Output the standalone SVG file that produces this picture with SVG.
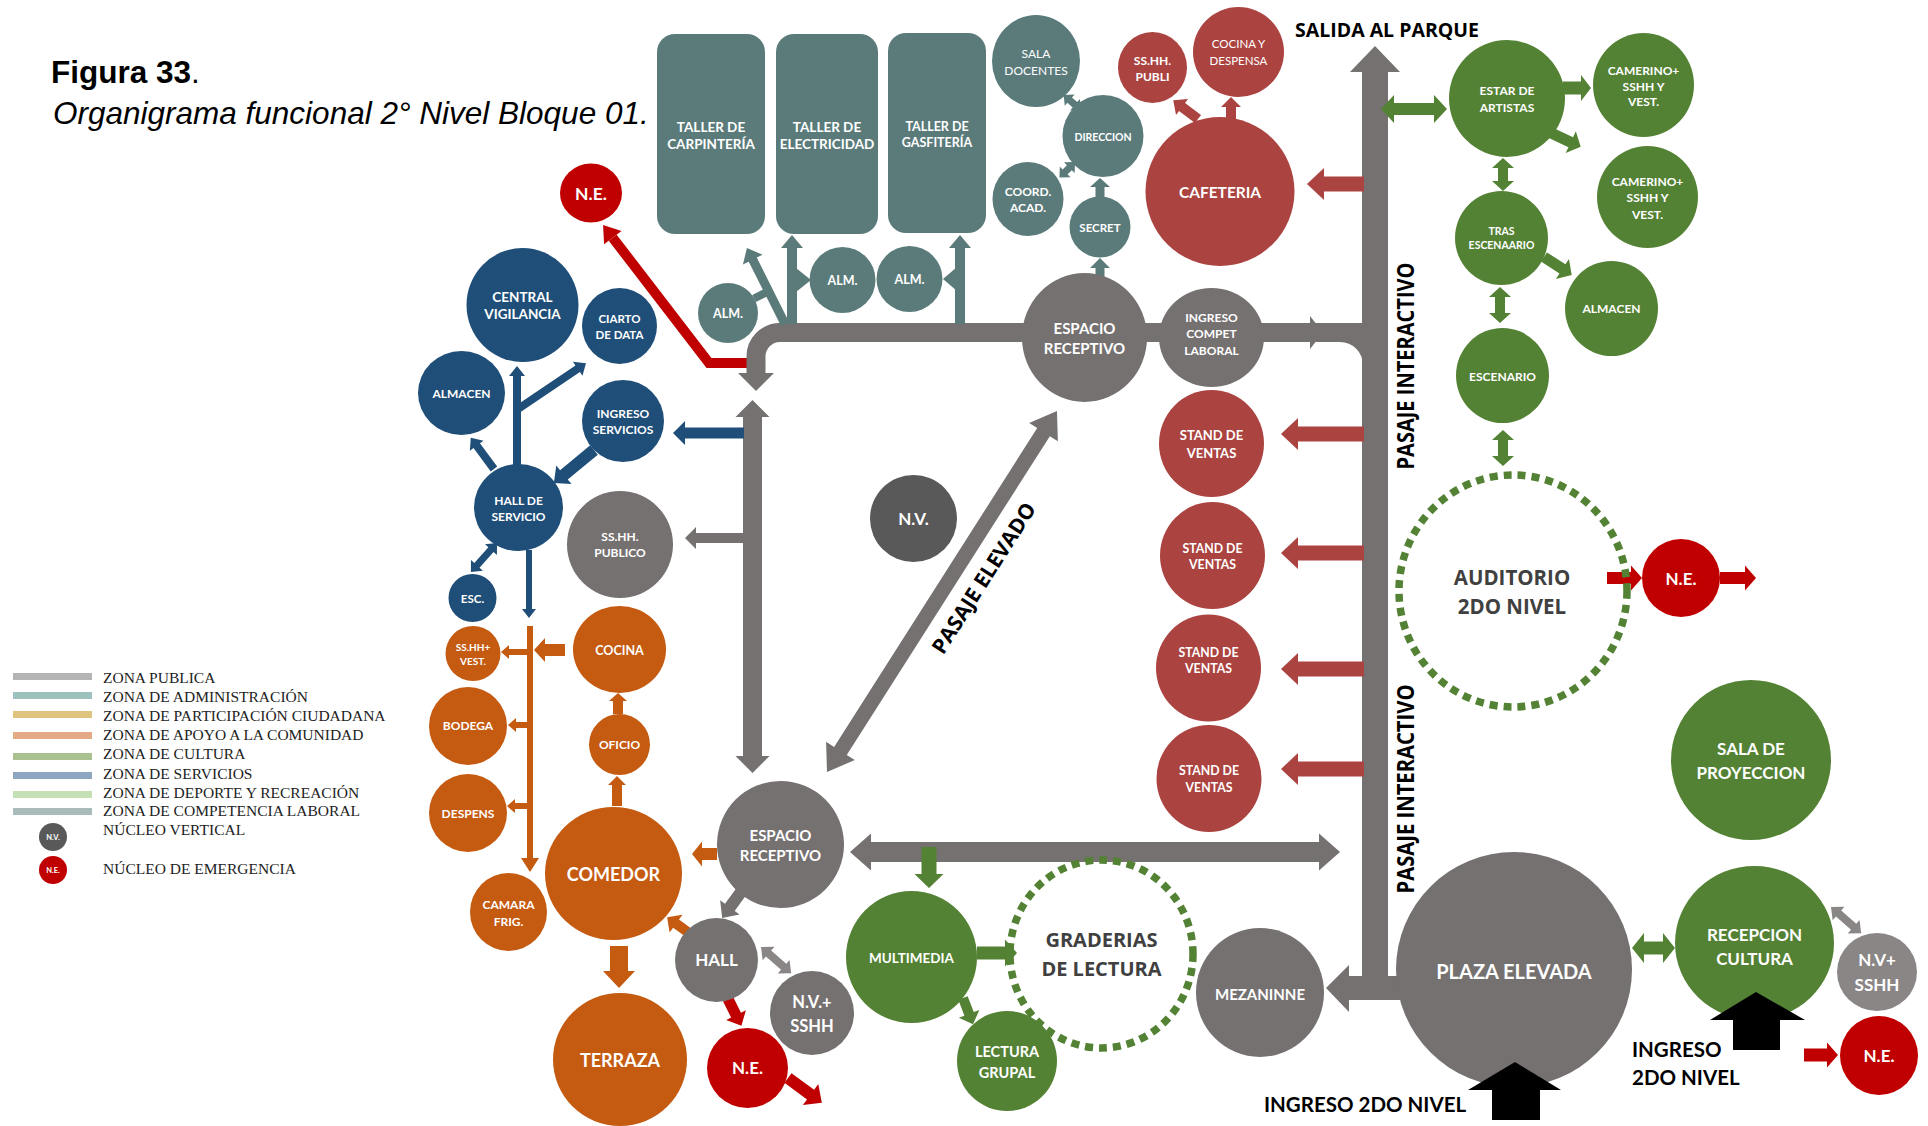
<svg xmlns="http://www.w3.org/2000/svg" width="1928" height="1126" viewBox="0 0 1928 1126">
<style>
.bg{fill:#ffffff}
.gr{fill:#767171}
.grl{fill:#8a8686}
.dg{fill:#595959}
.adm{fill:#5b7b7b}
.caf{fill:#ab4340}
.ne{fill:#c00000}
.cul{fill:#548235}
.ora{fill:#c55a11}
.blu{fill:#1f4e79}
.blk{fill:#000000}
.dash{fill:none;stroke:#548235;stroke-width:7.5;stroke-dasharray:8 6}
.t{font-family:Lato,"Open Sans","DejaVu Sans",sans-serif;font-weight:700;fill:#ffffff;text-anchor:middle}
.tn{font-weight:400}
.dk{font-family:"Open Sans",Lato,sans-serif;font-weight:700;fill:#404040;text-anchor:middle}
.lbl{font-family:Lato,"Open Sans",sans-serif;font-weight:700;fill:#000000}
.lbo{font-family:"Open Sans",Lato,sans-serif;font-weight:700;fill:#000000;text-anchor:middle}
.leg{font-family:"Liberation Serif","Times New Roman",serif;font-size:15.5px;fill:#222222}
</style>
<rect class="bg" x="0" y="0" width="1928" height="1126"/>

<g id="title">
<text x="51" y="83" font-family="Liberation Sans, Arial, sans-serif" font-size="31.5" fill="#000"><tspan font-weight="700">Figura 33</tspan>.</text>
<text x="53" y="124" font-family="Liberation Sans, Arial, sans-serif" font-size="31.5" font-style="italic" fill="#000">Organigrama funcional 2° Nivel Bloque 01.</text>
</g>

<g id="legend">
<rect x="13" y="673" width="79" height="7" fill="#b4b4b4"/>
<rect x="13" y="692" width="79" height="7" fill="#9bc2bc"/>
<rect x="13" y="711" width="79" height="7" fill="#dec47e"/>
<rect x="13" y="732" width="79" height="7" fill="#e4aa86"/>
<rect x="13" y="753" width="79" height="7" fill="#a9c091"/>
<rect x="13" y="772" width="79" height="7" fill="#8ea6c2"/>
<rect x="13" y="791" width="79" height="7" fill="#c5e0b4"/>
<rect x="13" y="808" width="79" height="7" fill="#aabbbb"/>
<text class="leg" x="103" y="682.5">ZONA PUBLICA</text>
<text class="leg" x="103" y="701.5">ZONA DE ADMINISTRACIÓN</text>
<text class="leg" x="103" y="720.5">ZONA DE PARTICIPACIÓN CIUDADANA</text>
<text class="leg" x="103" y="740">ZONA DE APOYO A LA COMUNIDAD</text>
<text class="leg" x="103" y="759">ZONA DE CULTURA</text>
<text class="leg" x="103" y="778.5">ZONA DE SERVICIOS</text>
<text class="leg" x="103" y="797.5">ZONA DE DEPORTE Y RECREACIÓN</text>
<text class="leg" x="103" y="816">ZONA DE COMPETENCIA LABORAL</text>
<circle class="dg" cx="53" cy="837" r="14"/>
<text class="t" x="53" y="840" font-size="7.5">N.V.</text>
<text class="leg" x="103" y="835">NÚCLEO VERTICAL</text>
<circle class="ne" cx="53" cy="870" r="14"/>
<text class="t" x="53" y="873" font-size="7.5">N.E.</text>
<text class="leg" x="103" y="874">NÚCLEO DE EMERGENCIA</text>
</g>

<g id="connectors">
<!-- red emergency line to top N.E. -->
<path d="M760,363 H709 L612.7,237.7" fill="none" stroke="#c00000" stroke-width="10" stroke-linejoin="miter"/>
<polygon class="ne" transform="translate(709,363) rotate(-127.5)" points="158,-11 174,0 158,11"/>

<!-- pasaje interactivo (vertical) -->
<rect class="gr" x="1362" y="70" width="26" height="930"/>
<polygon class="gr" points="1350,72 1375,46 1400,72"/>
<rect class="gr" x="1347" y="976" width="53" height="24"/>
<polygon class="gr" points="1349,965 1326,988 1349,1012"/>

<!-- top corridor -->
<path d="M1366,332.5 H780 A24,24 0 0 0 756,356.5 V374" fill="none" stroke="#767171" stroke-width="19"/>
<polygon class="gr" points="738,373 774,373 756,391"/>
<polygon class="gr" points="1310,316 1310,349 1323,332.5"/>
<path class="gr" d="M1340,342 H1363 V365 A23,23 0 0 0 1340,342 Z"/>

<!-- gray arrows -->
<polygon class="gr" transform="translate(752.5,400) rotate(90)" points="0,0 17,-17 17,-9.5 356,-9.5 356,-17 373,0 356,17 356,9.5 17,9.5 17,17"/>
<polygon class="gr" transform="translate(744,538) rotate(180)" points="0,-5 48,-5 48,-11 59,0 48,11 48,5 0,5"/>
<polygon class="blu" transform="translate(744,433) rotate(180)" points="0,-5.5 59,-5.5 59,-12 71,0 59,12 59,5.5 0,5.5"/>
<polygon class="gr" transform="translate(827,772) rotate(-57.5)" points="0,0 25,-17 25,-7.5 403,-7.5 403,-17 428,0 403,17 403,7.5 25,7.5 25,17"/>
<polygon class="gr" transform="translate(850,852)" points="0,0 21,-18.5 21,-10 469,-10 469,-18.5 490,0 469,18.5 469,10 21,10 21,18.5"/>
<polygon class="gr" transform="translate(741,892) rotate(126)" points="0,-6 19,-6 19,-12 32,0 19,12 19,6 0,6"/>
<polygon class="grl" transform="translate(761,947) rotate(41)" points="0,0 10,-9 10,-4 30,-4 30,-9 40,0 30,9 30,4 10,4 10,9"/>
<polygon class="grl" transform="translate(1831,907) rotate(41)" points="0,0 10,-9 10,-4 30,-4 30,-9 40,0 30,9 30,4 10,4 10,9"/>

<!-- red stand / cafeteria arrows -->
<polygon class="caf" transform="translate(1364,184) rotate(180)" points="0,-7.5 40,-7.5 40,-16 57,0 40,16 40,7.5 0,7.5"/>
<polygon class="caf" transform="translate(1364,434) rotate(180)" points="0,-7.5 66,-7.5 66,-16 83,0 66,16 66,7.5 0,7.5"/>
<polygon class="caf" transform="translate(1364,553) rotate(180)" points="0,-7.5 66,-7.5 66,-16 83,0 66,16 66,7.5 0,7.5"/>
<polygon class="caf" transform="translate(1364,669) rotate(180)" points="0,-7.5 66,-7.5 66,-16 83,0 66,16 66,7.5 0,7.5"/>
<polygon class="caf" transform="translate(1364,769) rotate(180)" points="0,-7.5 66,-7.5 66,-16 83,0 66,16 66,7.5 0,7.5"/>
<polygon class="caf" transform="translate(1198,119) rotate(-143)" points="0,-5 20,-5 20,-10 31,0 20,10 20,5 0,5"/>
<polygon class="caf" transform="translate(1231,119) rotate(-90)" points="0,-5 12,-5 12,-10 22,0 12,10 12,5 0,5"/>

<!-- admin (teal) arrows -->
<polygon class="adm" transform="translate(1100,284) rotate(-90)" points="0,-4.5 16,-4.5 16,-10 26,0 16,10 16,4.5 0,4.5"/>
<polygon class="adm" transform="translate(1100,197) rotate(-90)" points="0,-4.5 10,-4.5 10,-10 19,0 10,10 10,4.5 0,4.5"/>
<polygon class="adm" transform="translate(1081,110) rotate(-139)" points="0,0 8,-7.5 8,-3.5 15,-3.5 15,-7.5 23,0 15,7.5 15,3.5 8,3.5 8,7.5"/>
<polygon class="adm" transform="translate(1075,162) rotate(135)" points="0,0 8,-7.5 8,-3.5 14,-3.5 14,-7.5 22,0 14,7.5 14,3.5 8,3.5 8,7.5"/>
<polygon class="adm" transform="translate(785,324) rotate(-116.6)" points="0,-4.5 72,-4.5 72,-11 85,0 72,11 72,4.5 0,4.5"/>
<line x1="754" y1="298.5" x2="772" y2="289.5" stroke="#5b7b7b" stroke-width="8"/>
<polygon class="adm" transform="translate(792,324) rotate(-90)" points="0,-5 76,-5 76,-11 89,0 76,11 76,5 0,5"/>
<polygon class="adm" transform="translate(960,324) rotate(-90)" points="0,-5 76,-5 76,-11 89,0 76,11 76,5 0,5"/>
<polygon class="adm" points="796,268 796,292 811,280"/>
<polygon class="adm" points="957,267 957,291 943,279"/>

<!-- emergency arrows -->
<polygon class="ne" transform="translate(728,999) rotate(63.4)" points="0,-5.5 18,-5.5 18,-11 30,0 18,11 18,5.5 0,5.5"/>
<polygon class="ne" transform="translate(788,1078) rotate(36.3)" points="0,-6 28,-6 28,-13 42,0 28,13 28,6 0,6"/>
<polygon class="ne" transform="translate(1607,578)" points="0,-6 24,-6 24,-12.5 35,0 24,12.5 24,6 0,6"/>
<polygon class="ne" transform="translate(1720,578)" points="0,-6 25,-6 25,-12.5 36,0 25,12.5 25,6 0,6"/>
<polygon class="ne" transform="translate(1804,1055)" points="0,-6.5 23,-6.5 23,-12.5 34,0 23,12.5 23,6.5 0,6.5"/>

<!-- culture (green) arrows -->
<polygon class="cul" transform="translate(1381,109)" points="0,0 13,-14 13,-6 53,-6 53,-14 66,0 53,14 53,6 13,6 13,14"/>
<polygon class="cul" transform="translate(1563,88)" points="0,-6.5 18,-6.5 18,-13 28,0 18,13 18,6.5 0,6.5"/>
<polygon class="cul" transform="translate(1549,132) rotate(25)" points="0,-5.5 24,-5.5 24,-12 35,0 24,12 24,5.5 0,5.5"/>
<polygon class="cul" transform="translate(1503,158) rotate(90)" points="0,0 10,-11 10,-5 23,-5 23,-11 33,0 23,11 23,5 10,5 10,11"/>
<polygon class="cul" transform="translate(1544,257) rotate(33)" points="0,-5.5 22,-5.5 22,-12 33,0 22,12 22,5.5 0,5.5"/>
<polygon class="cul" transform="translate(1500,287) rotate(90)" points="0,0 10,-11 10,-5 26,-5 26,-11 36,0 26,11 26,5 10,5 10,11"/>
<polygon class="cul" transform="translate(1503,430) rotate(90)" points="0,0 10,-11 10,-5 26,-5 26,-11 36,0 26,11 26,5 10,5 10,11"/>
<polygon class="cul" transform="translate(1632,948)" points="0,0 12,-15 12,-6.5 31,-6.5 31,-15 43,0 31,15 31,6.5 12,6.5 12,15"/>
<polygon class="cul" transform="translate(929,847) rotate(90)" points="0,-7.5 27,-7.5 27,-14.5 41,0 27,14.5 27,7.5 0,7.5"/>
<polygon class="cul" transform="translate(977,953)" points="0,-6.5 28,-6.5 28,-13.5 40,0 28,13.5 28,6.5 0,6.5"/>
<polygon class="cul" transform="translate(963,998) rotate(69)" points="0,-5 17,-5 17,-11 28,0 17,11 17,5 0,5"/>

<!-- community support (orange) arrows -->
<polygon class="ora" transform="translate(717,854) rotate(180)" points="0,-6 15,-6 15,-12.5 25,0 15,12.5 15,6 0,6"/>
<polygon class="ora" transform="translate(689,933) rotate(-144)" points="0,-5 16,-5 16,-11 27,0 16,11 16,5 0,5"/>
<polygon class="ora" transform="translate(619,946) rotate(90)" points="0,-9 25,-9 25,-16 42,0 25,16 25,9 0,9"/>
<polygon class="ora" transform="translate(617,806) rotate(-90)" points="0,-5 21,-5 21,-9 30,0 21,9 21,5 0,5"/>
<polygon class="ora" transform="translate(618,714) rotate(-90)" points="0,-5 13,-5 13,-9 21,0 13,9 13,5 0,5"/>
<polygon class="ora" transform="translate(565,650) rotate(180)" points="0,-6 20,-6 20,-12 31,0 20,12 20,6 0,6"/>
<rect class="ora" x="527" y="626" width="6" height="234"/>
<polygon class="ora" points="521,858 539,858 530,872"/>
<polygon class="ora" transform="translate(530,652) rotate(180)" points="0,-3 21,-3 21,-7 29,0 21,7 21,3 0,3"/>
<polygon class="ora" transform="translate(530,725) rotate(180)" points="0,-3 14,-3 14,-7 22,0 14,7 14,3 0,3"/>
<polygon class="ora" transform="translate(530,806) rotate(180)" points="0,-3 15,-3 15,-7 23,0 15,7 15,3 0,3"/>

<!-- services (blue) arrows -->
<polygon class="blu" transform="translate(517,466) rotate(-90)" points="0,-4 90,-4 90,-8 100,0 90,8 90,4 0,4"/>
<polygon class="blu" transform="translate(518,409) rotate(-34)" points="0,-4 72,-4 72,-8.5 82,0 72,8.5 72,4 0,4"/>
<polygon class="blu" transform="translate(494,469) rotate(-126.6)" points="0,-4 29,-4 29,-8.5 39,0 29,8.5 29,4 0,4"/>
<polygon class="blu" transform="translate(594,450) rotate(140.5)" points="0,-6 39,-6 39,-12 52,0 39,12 39,6 0,6"/>
<polygon class="blu" transform="translate(497,543) rotate(132)" points="0,0 9,-8 9,-3.5 30,-3.5 30,-8 39,0 30,8 30,3.5 9,3.5 9,8"/>
<polygon class="blu" transform="translate(529,550) rotate(90)" points="0,-3 59,-3 59,-7 68,0 59,7 59,3 0,3"/>
</g>

<g id="connector-labels">
<text class="lbo" transform="translate(1414,366) rotate(-90)" font-size="24" textLength="207" lengthAdjust="spacingAndGlyphs">PASAJE INTERACTIVO</text>
<text class="lbo" transform="translate(1414,789) rotate(-90)" font-size="24" textLength="209" lengthAdjust="spacingAndGlyphs">PASAJE INTERACTIVO</text>
<text class="lbo" transform="translate(990,582) rotate(-57.5)" font-size="21" textLength="174" lengthAdjust="spacingAndGlyphs">PASAJE ELEVADO</text>
<text class="lbo" x="1387" y="37" font-size="19.5">SALIDA AL PARQUE</text>
<text class="lbl" x="1264" y="1112" font-size="20.5">INGRESO 2DO NIVEL</text>
<text class="lbl" x="1632" y="1057" font-size="20.5">INGRESO</text>
<text class="lbl" x="1632" y="1085" font-size="20.5">2DO NIVEL</text>
</g>

<g id="nodes">
<g id="n-taller-carpinteria"><rect class="adm" x="657" y="34" width="108" height="200" rx="18"/><text class="t" font-size="13.5"><tspan x="711" y="132">TALLER DE</tspan><tspan x="711" y="149">CARPINTERÍA</tspan></text></g>
<g id="n-taller-electricidad"><rect class="adm" x="776" y="34" width="102" height="200" rx="18"/><text class="t" font-size="13.5"><tspan x="827" y="132">TALLER DE</tspan><tspan x="827" y="149">ELECTRICIDAD</tspan></text></g>
<g id="n-taller-gasfiteria"><rect class="adm" x="888" y="33" width="98" height="200" rx="18"/><text class="t" font-size="12.5"><tspan x="937" y="130.5">TALLER DE</tspan><tspan x="937" y="146.5">GASFITERÍA</tspan></text></g>
<g id="n-sala-docentes"><ellipse class="adm" cx="1036" cy="61" rx="44" ry="46"/><text class="t tn" font-size="12"><tspan x="1036" y="57.5">SALA</tspan><tspan x="1036" y="74.5">DOCENTES</tspan></text></g>
<g id="n-direccion"><ellipse class="adm" cx="1103" cy="136" rx="40.5" ry="41"/><text class="t" x="1103" y="141" font-size="10.5">DIRECCION</text></g>
<g id="n-coord"><ellipse class="adm" cx="1028" cy="199" rx="35.5" ry="37"/><text class="t" font-size="12"><tspan x="1028" y="196">COORD.</tspan><tspan x="1028" y="212">ACAD.</tspan></text></g>
<g id="n-secret"><ellipse class="adm" cx="1100" cy="227" rx="30.5" ry="30.5"/><text class="t" x="1100" y="231.5" font-size="11.5">SECRET</text></g>
<g id="n-alm1"><circle class="adm" cx="728" cy="313" r="30"/><text class="t" x="728" y="317.5" font-size="12.5">ALM.</text></g>
<g id="n-alm2"><circle class="adm" cx="842.5" cy="280" r="33"/><text class="t" x="842.5" y="284.5" font-size="12.5">ALM.</text></g>
<g id="n-alm3"><circle class="adm" cx="909.5" cy="279" r="33"/><text class="t" x="909.5" y="283.5" font-size="12.5">ALM.</text></g>

<g id="n-cafeteria"><circle class="caf" cx="1220" cy="191.5" r="74.5"/><text class="t" x="1220" y="198" font-size="15.5">CAFETERIA</text></g>
<g id="n-sshh-publi"><ellipse class="caf" cx="1152.5" cy="67.5" rx="34.5" ry="35.5"/><text class="t" font-size="12"><tspan x="1152.5" y="65">SS.HH.</tspan><tspan x="1152.5" y="81">PUBLI</tspan></text></g>
<g id="n-cocina-despensa"><ellipse class="caf" cx="1238.5" cy="52" rx="45.5" ry="45"/><text class="t tn" font-size="11.5"><tspan x="1238.5" y="48">COCINA Y</tspan><tspan x="1238.5" y="65">DESPENSA</tspan></text></g>
<g id="n-stand1"><ellipse class="caf" cx="1211.5" cy="443.5" rx="52.5" ry="53.5"/><text class="t" font-size="13"><tspan x="1211.5" y="440">STAND DE</tspan><tspan x="1211.5" y="458">VENTAS</tspan></text></g>
<g id="n-stand2"><ellipse class="caf" cx="1212.5" cy="555.5" rx="52.5" ry="53.5"/><text class="t" font-size="12.3"><tspan x="1212.5" y="552.5">STAND DE</tspan><tspan x="1212.5" y="569">VENTAS</tspan></text></g>
<g id="n-stand3"><ellipse class="caf" cx="1208.5" cy="668" rx="52.5" ry="53.5"/><text class="t" font-size="12.3"><tspan x="1208.5" y="656.5">STAND DE</tspan><tspan x="1208.5" y="673">VENTAS</tspan></text></g>
<g id="n-stand4"><ellipse class="caf" cx="1209" cy="778.5" rx="52.5" ry="53.5"/><text class="t" font-size="12.3"><tspan x="1209" y="775">STAND DE</tspan><tspan x="1209" y="791.5">VENTAS</tspan></text></g>

<g id="n-espacio-receptivo-1"><ellipse class="gr" cx="1084.5" cy="337.5" rx="62.5" ry="64.5"/><text class="t" font-size="15"><tspan x="1084.5" y="333.5">ESPACIO</tspan><tspan x="1084.5" y="353.5">RECEPTIVO</tspan></text></g>
<g id="n-ingreso-compet"><ellipse class="gr" cx="1211.5" cy="337.5" rx="52.5" ry="49.5"/><text class="t" font-size="12"><tspan x="1211.5" y="321.5">INGRESO</tspan><tspan x="1211.5" y="337.5">COMPET</tspan><tspan x="1211.5" y="354.5">LABORAL</tspan></text></g>
<g id="n-sshh-publico"><ellipse class="gr" cx="620" cy="544.5" rx="53" ry="53.5"/><text class="t" font-size="12"><tspan x="620" y="541">SS.HH.</tspan><tspan x="620" y="557">PUBLICO</tspan></text></g>
<g id="n-nv"><circle class="dg" cx="913.5" cy="518.5" r="43.5"/><text class="t" x="913.5" y="524.5" font-size="17">N.V.</text></g>
<g id="n-espacio-receptivo-2"><circle class="gr" cx="780.5" cy="844.5" r="63.5"/><text class="t" font-size="15"><tspan x="780.5" y="840.5">ESPACIO</tspan><tspan x="780.5" y="861">RECEPTIVO</tspan></text></g>
<g id="n-hall"><ellipse class="gr" cx="716.5" cy="960" rx="41.5" ry="42"/><text class="t" x="716.5" y="966" font-size="17">HALL</text></g>
<g id="n-nv-sshh-1"><circle class="gr" cx="812" cy="1013" r="42"/><text class="t" font-size="16.5"><tspan x="812" y="1007.5">N.V.+</tspan><tspan x="812" y="1032">SSHH</tspan></text></g>
<g id="n-mezaninne"><ellipse class="gr" cx="1260" cy="992.5" rx="64" ry="64.5"/><text class="t" x="1260" y="999.5" font-size="15">MEZANINNE</text></g>

<g id="n-central-vigilancia"><ellipse class="blu" cx="522.5" cy="305" rx="56" ry="57"/><text class="t" font-size="13.5"><tspan x="522.5" y="301.5">CENTRAL</tspan><tspan x="522.5" y="319">VIGILANCIA</tspan></text></g>
<g id="n-ciarto-data"><ellipse class="blu" cx="619.5" cy="326" rx="37.5" ry="38"/><text class="t" font-size="11.5"><tspan x="619.5" y="323">CIARTO</tspan><tspan x="619.5" y="339">DE DATA</tspan></text></g>
<g id="n-almacen-serv"><ellipse class="blu" cx="461.5" cy="393" rx="43.5" ry="42"/><text class="t" x="461.5" y="398.3" font-size="12">ALMACEN</text></g>
<g id="n-ingreso-servicios"><circle class="blu" cx="623" cy="421" r="41"/><text class="t" font-size="12"><tspan x="623" y="417.5">INGRESO</tspan><tspan x="623" y="433.5">SERVICIOS</tspan></text></g>
<g id="n-hall-servicio"><ellipse class="blu" cx="518.5" cy="507.5" rx="44.5" ry="43.5"/><text class="t" font-size="12"><tspan x="518.5" y="504.5">HALL DE</tspan><tspan x="518.5" y="520.5">SERVICIO</tspan></text></g>
<g id="n-esc"><circle class="blu" cx="472.5" cy="598" r="24"/><text class="t" x="472.5" y="603" font-size="11.5">ESC.</text></g>

<g id="n-cocina"><ellipse class="ora" cx="619.5" cy="649.5" rx="46.5" ry="43.5"/><text class="t" x="619.5" y="654.5" font-size="12.5">COCINA</text></g>
<g id="n-oficio"><circle class="ora" cx="619.5" cy="744.5" r="30.5"/><text class="t" x="619.5" y="749" font-size="12">OFICIO</text></g>
<g id="n-sshh-vest"><circle class="ora" cx="473" cy="653.5" r="27.5"/><text class="t" font-size="10"><tspan x="473" y="651">SS.HH+</tspan><tspan x="473" y="664.5">VEST.</tspan></text></g>
<g id="n-bodega"><circle class="ora" cx="468" cy="726" r="39"/><text class="t" x="468" y="730.3" font-size="12">BODEGA</text></g>
<g id="n-despens"><circle class="ora" cx="468" cy="813" r="39"/><text class="t" x="468" y="817.5" font-size="12">DESPENS</text></g>
<g id="n-camara"><ellipse class="ora" cx="508.5" cy="912" rx="38.5" ry="39"/><text class="t" font-size="12"><tspan x="508.5" y="908.5">CAMARA</tspan><tspan x="508.5" y="925.5">FRIG.</tspan></text></g>
<g id="n-comedor"><ellipse class="ora" cx="613.5" cy="873.5" rx="68.5" ry="66.5"/><text class="t" x="613.5" y="880.5" font-size="18">COMEDOR</text></g>
<g id="n-terraza"><ellipse class="ora" cx="620" cy="1059.5" rx="67" ry="66.5"/><text class="t" x="620" y="1066.5" font-size="18">TERRAZA</text></g>

<g id="n-graderias"><ellipse class="dash" cx="1101.5" cy="954" rx="91.5" ry="94" stroke-width="7" stroke-dasharray="7 6"/><text class="dk" font-size="20"><tspan x="1101.5" y="947">GRADERIAS</tspan><tspan x="1101.5" y="975.5">DE LECTURA</tspan></text></g>
<g id="n-multimedia"><ellipse class="cul" cx="911.5" cy="957" rx="65.5" ry="66"/><text class="t" x="911.5" y="962.5" font-size="13.5">MULTIMEDIA</text></g>
<g id="n-lectura-grupal"><circle class="cul" cx="1007" cy="1061" r="50"/><text class="t" font-size="14.5"><tspan x="1007" y="1057">LECTURA</tspan><tspan x="1007" y="1077.5">GRUPAL</tspan></text></g>

<g id="n-estar-artistas"><ellipse class="cul" cx="1507" cy="98.5" rx="58" ry="58.5"/><text class="t" font-size="12"><tspan x="1507" y="95">ESTAR DE</tspan><tspan x="1507" y="111.5">ARTISTAS</tspan></text></g>
<g id="n-camerino1"><ellipse class="cul" cx="1643.5" cy="85" rx="50.5" ry="52"/><text class="t" font-size="12"><tspan x="1643.5" y="74.5">CAMERINO+</tspan><tspan x="1643.5" y="90.5">SSHH Y</tspan><tspan x="1643.5" y="106">VEST.</tspan></text></g>
<g id="n-camerino2"><ellipse class="cul" cx="1647.5" cy="197" rx="50.5" ry="51"/><text class="t" font-size="12"><tspan x="1647.5" y="186">CAMERINO+</tspan><tspan x="1647.5" y="202">SSHH Y</tspan><tspan x="1647.5" y="218.5">VEST.</tspan></text></g>
<g id="n-tras-escenario"><ellipse class="cul" cx="1501.5" cy="238" rx="46.5" ry="47"/><text class="t" font-size="10.5"><tspan x="1501.5" y="235">TRAS</tspan><tspan x="1501.5" y="249">ESCENAARIO</tspan></text></g>
<g id="n-almacen-cultura"><ellipse class="cul" cx="1611.5" cy="308.5" rx="46.5" ry="47.5"/><text class="t" x="1611.5" y="313.3" font-size="12">ALMACEN</text></g>
<g id="n-escenario"><ellipse class="cul" cx="1502.5" cy="375.5" rx="46.5" ry="47.5"/><text class="t" x="1502.5" y="381" font-size="12">ESCENARIO</text></g>
<g id="n-auditorio"><ellipse class="dash" cx="1513" cy="591" rx="114" ry="116"/><text class="dk" font-size="20.5"><tspan x="1512" y="585">AUDITORIO</tspan><tspan x="1512" y="613.5">2DO NIVEL</tspan></text></g>
<g id="n-ne-auditorio"><circle class="ne" cx="1681" cy="578" r="39"/><text class="t" x="1681" y="584.5" font-size="17">N.E.</text></g>
<g id="n-sala-proyeccion"><circle class="cul" cx="1751" cy="760" r="80"/><text class="t" font-size="17"><tspan x="1751" y="754.5">SALA DE</tspan><tspan x="1751" y="779">PROYECCION</tspan></text></g>

<g id="n-plaza-elevada"><ellipse class="gr" cx="1514" cy="969.5" rx="118" ry="117.5"/><text class="t" x="1514" y="979" font-size="20">PLAZA ELEVADA</text></g>
<g id="n-recepcion-cultura"><ellipse class="cul" cx="1754.5" cy="943" rx="79.5" ry="77"/><text class="t" font-size="17"><tspan x="1754.5" y="941">RECEPCION</tspan><tspan x="1754.5" y="965">CULTURA</tspan></text></g>
<g id="n-nv-sshh-2"><ellipse class="grl" cx="1877" cy="972" rx="40" ry="39"/><text class="t" font-size="17"><tspan x="1877" y="966">N.V+</tspan><tspan x="1877" y="990.5">SSHH</tspan></text></g>
<g id="n-ne-br"><ellipse class="ne" cx="1879" cy="1055.5" rx="39" ry="39.5"/><text class="t" x="1879" y="1062" font-size="17">N.E.</text></g>
<g id="n-ne-bottom"><ellipse class="ne" cx="747.5" cy="1068" rx="40.5" ry="40"/><text class="t" x="747.5" y="1074" font-size="17">N.E.</text></g>
<g id="n-ne-top"><ellipse class="ne" cx="591" cy="193" rx="31" ry="29.5"/><text class="t" x="591" y="199.5" font-size="17.5">N.E.</text></g>
</g>

<g id="entry-arrows">
<polygon class="blk" points="1492,1120 1492,1090 1468,1090 1515,1062 1561,1090 1540,1090 1540,1120"/>
<polygon class="blk" points="1733,1050 1733,1020 1710,1020 1756,992 1805,1020 1780,1020 1780,1050"/>
</g>
</svg>
